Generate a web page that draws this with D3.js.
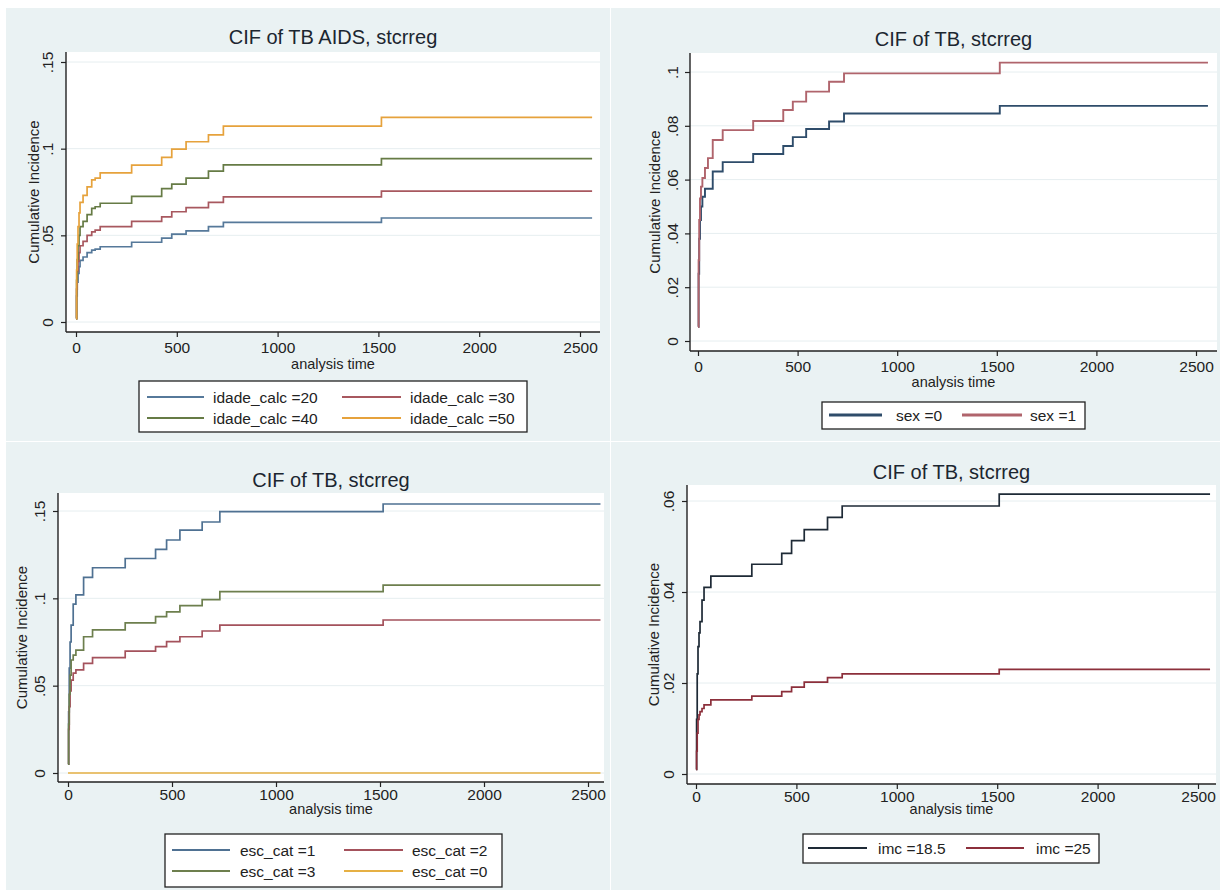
<!DOCTYPE html>
<html>
<head>
<meta charset="utf-8">
<script src="https://cdn.jsdelivr.net/npm/d3@7"></script>
<style>
body { margin: 0; background: #fff; }
svg { display: block; font-family: "Liberation Sans", Arial, sans-serif; }
</style>
</head>
<body>
<div class="chart"></div>
<script>
const xTicks = [0, 500, 1000, 1500, 2000, 2500];

// panel 1 - CIF of TB AIDS by age
const times1 = [0, 3, 6, 10, 15, 20, 35, 55, 78, 95, 120, 276, 425, 475, 546, 657, 731, 1515, 2560];
const age20 = [0.002, 0.015, 0.023, 0.028, 0.032, 0.0355, 0.0375, 0.040, 0.0415, 0.042, 0.0434, 0.046, 0.0484, 0.0507, 0.0526, 0.055, 0.0575, 0.060, 0.060];
const age30 = [0.002, 0.019, 0.029, 0.035, 0.040, 0.044, 0.0465, 0.050, 0.052, 0.053, 0.055, 0.058, 0.0607, 0.0636, 0.066, 0.069, 0.0722, 0.0755, 0.0755];
const age40 = [0.002, 0.024, 0.036, 0.044, 0.050, 0.055, 0.058, 0.062, 0.0655, 0.0665, 0.0685, 0.0725, 0.077, 0.0795, 0.083, 0.087, 0.0907, 0.0943, 0.0943];
const age50 = [0.002, 0.030, 0.045, 0.055, 0.063, 0.069, 0.073, 0.078, 0.082, 0.083, 0.086, 0.0905, 0.095, 0.0997, 0.104, 0.108, 0.113, 0.118, 0.118];
const yTicks1 = [0, 0.05, 0.1, 0.15];
const yLabels1 = ['0', '.05', '.1', '.15'];

// panel 2 - by sex
const times2 = [0, 3, 6, 10, 15, 22, 35, 50, 74, 124, 277, 428, 476, 543, 658, 733, 1515, 2560];
const sex0 = [0.0053, 0.025, 0.038, 0.045, 0.050, 0.0536, 0.0566, 0.0566, 0.063, 0.0665, 0.0695, 0.0725, 0.0758, 0.0788, 0.0816, 0.0846, 0.0874, 0.0874];
const sex1 = [0.0053, 0.030, 0.045, 0.053, 0.0574, 0.0606, 0.0643, 0.068, 0.0747, 0.0784, 0.0818, 0.0859, 0.089, 0.0927, 0.0964, 0.0995, 0.1035, 0.1035];
const yTicks2 = [0, 0.02, 0.04, 0.06, 0.08, 0.1];
const yLabels2 = ['0', '.02', '.04', '.06', '.08', '.1'];

// panel 3 - by schooling
const times3 = [0, 3, 6, 10, 15, 25, 38, 75, 118, 275, 421, 474, 538, 645, 730, 1515, 2560];
const esc1 = [0.005, 0.035, 0.060, 0.075, 0.0847, 0.0967, 0.102, 0.112, 0.1175, 0.1228, 0.128, 0.1334, 0.139, 0.1437, 0.1496, 0.154, 0.154];
const esc2 = [0.005, 0.025, 0.038, 0.047, 0.0532, 0.0572, 0.059, 0.0628, 0.066, 0.0698, 0.0723, 0.0752, 0.078, 0.0813, 0.0847, 0.0876, 0.0876];
const esc3 = [0.005, 0.028, 0.045, 0.056, 0.0647, 0.0675, 0.0704, 0.078, 0.0819, 0.086, 0.0895, 0.0923, 0.0958, 0.0993, 0.1038, 0.1076, 0.1076];
const esc0Times = [0, 2560];
const esc0 = [0, 0];
const yTicks3 = [0, 0.05, 0.1, 0.15];
const yLabels3 = ['0', '.05', '.1', '.15'];

// panel 4 - by BMI
const times4 = [0, 3, 6, 10, 15, 20, 30, 40, 74, 278, 427, 476, 539, 655, 728, 1510, 2560];
const imc185 = [0.001, 0.012, 0.022, 0.028, 0.031, 0.0335, 0.0382, 0.041, 0.0435, 0.0461, 0.0485, 0.0513, 0.0537, 0.0564, 0.0589, 0.0615, 0.0615];
const imc25 = [0.001, 0.005, 0.009, 0.012, 0.013, 0.0137, 0.0144, 0.0152, 0.0163, 0.0171, 0.0181, 0.0191, 0.0202, 0.0212, 0.022, 0.023, 0.023];
const yTicks4 = [0, 0.02, 0.04, 0.06];
const yLabels4 = ['0', '.02', '.04', '.06'];

const svg = d3.select('.chart')
    .append('svg')
    .attr('width', 1220)
    .attr('height', 893);

const ink = '#222';

function drawPanel(p) {
    const g = svg.append('g');

    g.append('rect')
        .attr('x', p.bg[0]).attr('y', p.bg[1])
        .attr('width', p.bg[2]).attr('height', p.bg[3])
        .attr('fill', '#eaf2f3');

    const x = d3.scaleLinear().domain([0, 2500]).range([p.x0, p.x2500]);
    const y = d3.scaleLinear()
        .domain([0, p.yTicks[p.yTicks.length - 1]])
        .range([p.y0, p.yTop]);

    g.append('rect')
        .attr('x', p.left).attr('y', p.top)
        .attr('width', p.right - p.left).attr('height', p.bottom - p.top)
        .attr('fill', '#fff');

    g.selectAll('.grid')
        .data(p.yTicks)
        .join('line')
        .attr('x1', p.left).attr('x2', p.right)
        .attr('y1', d => y(d)).attr('y2', d => y(d))
        .attr('stroke', '#e6eef0')
        .attr('stroke-width', 1);

    const line = d3.line()
        .x(d => x(d[0]))
        .y(d => y(d[1]))
        .curve(d3.curveStepAfter);

    p.series.forEach(s => {
        g.append('path')
            .datum(s.times.map((t, i) => [t, s.values[i]]))
            .attr('d', line)
            .attr('fill', 'none')
            .attr('stroke', s.color)
            .attr('stroke-width', p.lineWidth || 1.7);
    });

    // axes
    const xAxis = d3.axisBottom(x)
        .tickValues(xTicks)
        .tickSize(5)
        .tickPadding(p.tickPad)
        .tickFormat(d3.format('d'));
    const xg = g.append('g')
        .attr('transform', `translate(0,${p.bottom})`)
        .call(xAxis);
    xg.select('.domain').remove();
    xg.selectAll('line').attr('stroke', ink).attr('stroke-width', 1.2);
    xg.selectAll('text')
        .attr('font-size', 15.5)
        .attr('font-family', 'Liberation Sans, Arial, sans-serif')
        .attr('fill', ink);

    const yAxis = d3.axisLeft(y)
        .tickValues(p.yTicks)
        .tickSize(5)
        .tickFormat((d, i) => p.yLabels[i]);
    const yg = g.append('g')
        .attr('transform', `translate(${p.left},0)`)
        .call(yAxis);
    yg.select('.domain').remove();
    yg.selectAll('line').attr('stroke', ink).attr('stroke-width', 1.2);
    yg.selectAll('text')
        .attr('font-size', 15.5)
        .attr('font-family', 'Liberation Sans, Arial, sans-serif')
        .attr('fill', ink)
        .attr('transform', 'rotate(-90)')
        .attr('x', 0)
        .attr('y', -(p.left - p.yLabelX - 5.5))
        .attr('dy', 0)
        .attr('text-anchor', 'middle');

    g.append('line')
        .attr('x1', p.left).attr('x2', p.right)
        .attr('y1', p.bottom).attr('y2', p.bottom)
        .attr('stroke', ink).attr('stroke-width', 1.4);
    g.append('line')
        .attr('x1', p.left).attr('x2', p.left)
        .attr('y1', p.top).attr('y2', p.bottom)
        .attr('stroke', ink).attr('stroke-width', 1.4);

    g.append('text')
        .attr('x', (p.left + p.right) / 2)
        .attr('y', p.titleY + 7)
        .attr('text-anchor', 'middle')
        .attr('font-size', 20)
        .attr('fill', '#1c2630')
        .text(p.title);

    g.append('text')
        .attr('x', (p.left + p.right) / 2)
        .attr('y', p.xTitleY + 5)
        .attr('text-anchor', 'middle')
        .attr('font-size', 14.5)
        .attr('fill', ink)
        .text('analysis time');

    g.append('text')
        .attr('transform', `translate(${p.yTitleX + 5.5},${(p.top + p.bottom) / 2}) rotate(-90)`)
        .attr('text-anchor', 'middle')
        .attr('font-size', 15)
        .attr('fill', ink)
        .text('Cumulative Incidence');

    // legend
    const lg = p.legend;
    g.append('rect')
        .attr('x', lg.box[0]).attr('y', lg.box[1])
        .attr('width', lg.box[2] - lg.box[0]).attr('height', lg.box[3] - lg.box[1])
        .attr('fill', '#fff')
        .attr('stroke', ink)
        .attr('stroke-width', 1.3);

    p.series.forEach((s, i) => {
        const col = i % lg.cols.length;
        const row = Math.floor(i / lg.cols.length);
        const c = lg.cols[col];
        const ry = lg.rows[row];
        g.append('line')
            .attr('x1', c[0]).attr('x2', c[1])
            .attr('y1', ry).attr('y2', ry)
            .attr('stroke', s.color)
            .attr('stroke-width', lg.lineWidth || 2);
        g.append('text')
            .attr('x', c[2])
            .attr('y', ry + 5.5)
            .attr('font-size', 15.5)
            .attr('fill', ink)
            .text(s.label);
    });
}

drawPanel({
    bg: [6, 8, 604, 433],
    left: 66, right: 600, top: 52, bottom: 332,
    x0: 76, x2500: 580, y0: 322, yTop: 62,
    yTicks: yTicks1, yLabels: yLabels1,
    yLabelX: 47, yTitleX: 33, tickPad: 5,
    title: 'CIF of TB AIDS, stcrreg', titleY: 37, xTitleY: 364,
    series: [
        {label: 'idade_calc =20', times: times1, values: age20, color: '#56799a'},
        {label: 'idade_calc =30', times: times1, values: age30, color: '#a8585f'},
        {label: 'idade_calc =40', times: times1, values: age40, color: '#667b45'},
        {label: 'idade_calc =50', times: times1, values: age50, color: '#e6a23c'}
    ],
    legend: {box: [139, 381, 527, 432], rows: [397, 418], cols: [[147, 204, 213], [342, 401, 410]]}
});

drawPanel({
    bg: [611, 8, 609, 433],
    left: 690, right: 1217, top: 53, bottom: 351,
    x0: 698, x2500: 1196, y0: 341, yTop: 72,
    yTicks: yTicks2, yLabels: yLabels2,
    yLabelX: 672, yTitleX: 654, tickPad: 5,
    title: 'CIF of TB, stcrreg', titleY: 39, xTitleY: 382,
    lineWidth: 1.9,
    series: [
        {label: 'sex =0', times: times2, values: sex0, color: '#2e4c6a'},
        {label: 'sex =1', times: times2, values: sex1, color: '#b0646c'}
    ],
    legend: {box: [822, 402, 1085, 429], rows: [415], cols: [[829, 882, 896], [962, 1022, 1030]], lineWidth: 3}
});

drawPanel({
    bg: [6, 442, 604, 448],
    left: 58, right: 604, top: 493, bottom: 782,
    x0: 68, x2500: 588, y0: 773, yTop: 511,
    yTicks: yTicks3, yLabels: yLabels3,
    yLabelX: 39, yTitleX: 21, tickPad: 2,
    title: 'CIF of TB, stcrreg', titleY: 480, xTitleY: 809,
    series: [
        {label: 'esc_cat =1', times: times3, values: esc1, color: '#4f7192'},
        {label: 'esc_cat =2', times: times3, values: esc2, color: '#a4525c'},
        {label: 'esc_cat =3', times: times3, values: esc3, color: '#6d7f4e'},
        {label: 'esc_cat =0', times: esc0Times, values: esc0, color: '#e6b044'}
    ],
    legend: {box: [165, 834, 502, 887], rows: [850, 871], cols: [[172, 230, 240], [344, 403, 412]]}
});

drawPanel({
    bg: [611, 442, 609, 448],
    left: 687, right: 1216, top: 485, bottom: 784,
    x0: 696, x2500: 1198, y0: 774, yTop: 501,
    yTicks: yTicks4, yLabels: yLabels4,
    yLabelX: 668, yTitleX: 653, tickPad: 2,
    title: 'CIF of TB, stcrreg', titleY: 472, xTitleY: 809,
    series: [
        {label: 'imc =18.5', times: times4, values: imc185, color: '#1e2a36'},
        {label: 'imc =25', times: times4, values: imc25, color: '#8c2f3b'}
    ],
    legend: {box: [803, 834, 1099, 863], rows: [848], cols: [[808, 867, 878], [966, 1024, 1036]]}
});
</script>
</body>
</html>
